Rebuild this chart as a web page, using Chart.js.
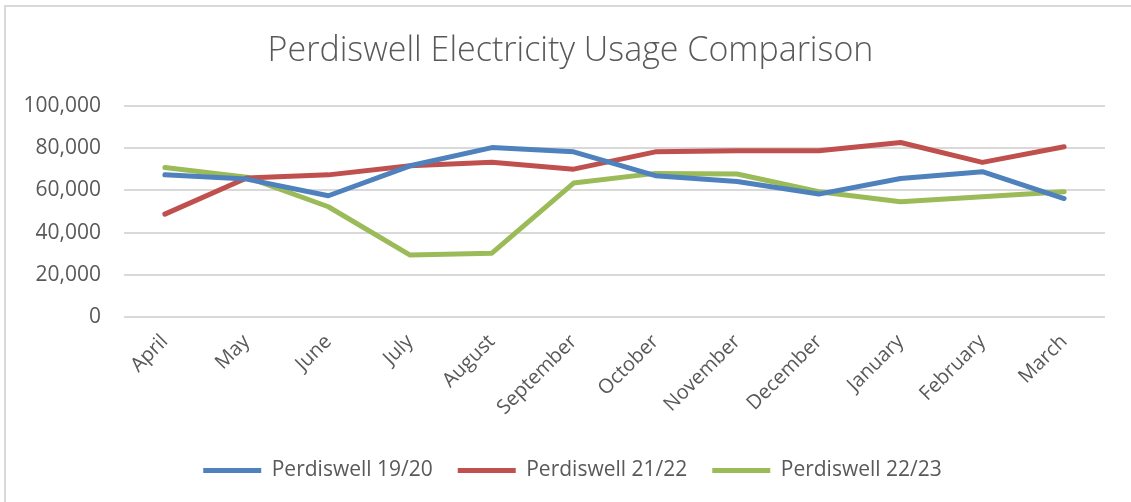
<!DOCTYPE html>
<html>
<head>
<meta charset="utf-8">
<script src="https://cdn.jsdelivr.net/npm/chart.js@4"></script>
<style>
  html, body { margin: 0; padding: 0; background: #fff; }
  #wrap { position: relative; width: 1131px; height: 502px; }
  #frame { position: absolute; left: 4px; top: 5px; right: -4px; bottom: -4px;
           border: 2px solid #d9d9d9; pointer-events: none; }
</style>
</head>
<body>
<div id="wrap">
  <canvas id="line-chart" width="1131" height="502"></canvas>
  <div id="frame"></div>
</div>
<script>
// mois (avril -> mars)
const months = ["April", "May", "June", "July", "August", "September",
                "October", "November", "December", "January", "February", "March"];

// valeurs
const perdiswell1920 = [67300, 65300, 57400, 71600, 80200, 78200, 66900, 64200, 58200, 65600, 68800, 56100];
const perdiswell2122 = [48700, 65800, 67300, 71600, 73300, 70000, 78200, 78700, 78700, 82600, 73200, 80600];
const perdiswell2223 = [70800, 66200, 52200, 29300, 30200, 63400, 68000, 67700, 59300, 54600, 56900, 59300];

const seriesNames = ["Perdiswell 19/20", "Perdiswell 21/22", "Perdiswell 22/23"];
const seriesColors = ["#4F81BD", "#C0504D", "#9BBB59"];

const textColor = "#595959";
const fontName = "'Open Sans', 'DejaVu Sans', sans-serif";

function makeDataset(i, values){
	return {
		label: seriesNames[i],
		data: values,
		borderColor: seriesColors[i],
		backgroundColor: seriesColors[i],
		borderWidth: 5,
		borderCapStyle: 'round',
		borderJoinStyle: 'round',
		pointRadius: 0,
		pointHoverRadius: 0,
		fill: false,
		tension: 0
	};
}

// titre et legende centres sur toute la largeur (pas seulement la zone du graphe)
const centerBoxes = {
	id: 'centerBoxes',
	afterLayout(chart){
		const lg = chart.legend;
		if (lg) { lg.left += 20; lg.right += 20; }
		const tb = chart.titleBlock;
		if (tb) { tb.left += 18; tb.right += 18; }
	}
};

new Chart(document.getElementById("line-chart"), {
	type: 'line',
	data: {
		labels: months,
		datasets: [
			makeDataset(0, perdiswell1920),
			makeDataset(1, perdiswell2122),
			makeDataset(2, perdiswell2223)
		]
	},
	plugins: [centerBoxes],
	options: {
		responsive: false,
		animation: false,
		maintainAspectRatio: false,
		layout: { padding: { left: 0, right: 26, top: 0, bottom: 11 } },
		plugins: {
			title: {
				display: true,
				text: 'Perdiswell Electricity Usage Comparison',
				color: textColor,
				font: { family: fontName, size: 34, weight: '300', lineHeight: 1.2 },
				padding: { top: 31, bottom: 34 }
			},
			legend: {
				position: 'bottom',
				labels: {
					color: textColor,
					font: { family: fontName, size: 21 },
					usePointStyle: true,
					pointStyle: 'line',
					pointStyleWidth: 58,
					boxHeight: 6,
					padding: 25
				}
			},
			tooltip: { enabled: false }
		},
		scales: {
			x: {
				offset: true,
				grid: { display: false, drawTicks: false },
				border: { display: false },
				ticks: {
					color: textColor,
					font: { family: fontName, size: 20 },
					maxRotation: 45,
					minRotation: 45,
					padding: 13,
					autoSkip: false
				},
				afterFit: function(scale){ scale.height = 118; }
			},
			y: {
				min: 0,
				max: 100000,
				grid: { color: '#d9d9d9', lineWidth: 2, drawTicks: false },
				border: { display: false },
				ticks: {
					stepSize: 20000,
					color: textColor,
					font: { family: fontName, size: 21 },
					padding: 23,
					callback: function(v){ return v.toLocaleString('en-GB'); }
				},
				afterFit: function(scale){ scale.width = 124; }
			}
		}
	}
});
</script>
</body>
</html>
